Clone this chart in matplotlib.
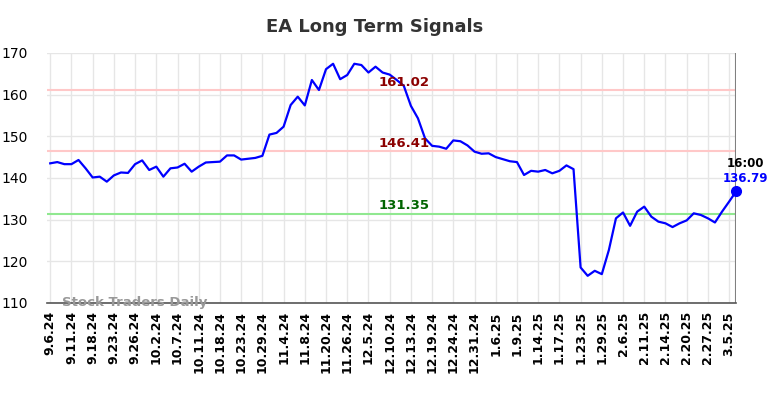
import matplotlib
matplotlib.use("Agg")
import matplotlib.pyplot as plt

# closing prices, one per trading day
prices = [
    143.5, 143.8, 143.3, 143.3, 144.3, 142.3, 140.1, 140.3, 139.1, 140.6,
    141.3, 141.2, 143.3, 144.2, 141.9, 142.7, 140.3, 142.3, 142.5, 143.4,
    141.5, 142.7, 143.7, 143.8, 143.9, 145.4, 145.4, 144.4, 144.6, 144.8,
    145.3, 150.4, 150.8, 152.3, 157.5, 159.5, 157.4, 163.5, 161.1, 166.1,
    167.4, 163.7, 164.7, 167.4, 167.1, 165.3, 166.7, 165.3, 164.8, 163.5,
    162.1, 157.3, 154.3, 149.5, 147.7, 147.5, 147.0, 149.0, 148.8, 147.8,
    146.3, 145.8, 145.9, 145.0, 144.5, 144.0, 143.8, 140.7, 141.7, 141.5,
    141.9, 141.1, 141.7, 143.0, 142.1, 118.5, 116.5, 117.7, 116.9, 122.7,
    130.3, 131.7, 128.5, 131.9, 133.1, 130.7, 129.5, 129.1, 128.2, 129.1,
    129.8, 131.5, 131.1, 130.3, 129.3, 131.9, 134.3, 136.79,
]

tick_labels = [
    "9.6.24", "9.11.24", "9.18.24", "9.23.24", "9.26.24", "10.2.24",
    "10.7.24", "10.11.24", "10.18.24", "10.23.24", "10.29.24", "11.4.24",
    "11.8.24", "11.20.24", "11.26.24", "12.5.24", "12.10.24", "12.13.24",
    "12.19.24", "12.24.24", "12.31.24", "1.6.25", "1.9.25", "1.14.25",
    "1.17.25", "1.23.25", "1.29.25", "2.6.25", "2.11.25", "2.14.25",
    "2.20.25", "2.27.25", "3.5.25",
]
tick_step = 3

upper_signal = 161.02
mid_signal = 146.41
lower_signal = 131.35
last_time = "16:00"

fig = plt.figure(figsize=(7.84, 3.98), dpi=100)
ax = fig.add_axes([0.06, 0.239, 0.879, 0.628])

x = list(range(len(prices)))
ax.plot(x, prices, color="blue", lw=1.6, zorder=3)

ax.axhline(upper_signal, color="#ffc8c8", lw=1.5, zorder=2)
ax.axhline(mid_signal, color="#ffc8c8", lw=1.5, zorder=2)
ax.axhline(lower_signal, color="#90e890", lw=1.5, zorder=2)

lab_x = 50
for val, col in [(upper_signal, "#8b0000"), (mid_signal, "#8b0000"),
                 (lower_signal, "#006400")]:
    ax.text(lab_x, val + 0.4, f"{val:.2f}", color=col, fontsize=9.5,
            fontweight="bold", ha="center", va="bottom")

last = len(prices) - 1
ax.axvline(last, color="#808080", lw=1.5, zorder=2)
ax.plot(last, prices[-1], "o", color="blue", ms=7, zorder=4, clip_on=False)
ax.text(last + 1.3, prices[-1] + 5.0, last_time, color="black", fontsize=8.5,
        fontweight="bold", ha="center", va="bottom", clip_on=False)
ax.text(last + 1.3, prices[-1] + 1.6, f"{prices[-1]:.2f}", color="blue",
        fontsize=8.5, fontweight="bold", ha="center", va="bottom", clip_on=False)

ax.text(0.021, 0.0, "Stock Traders Daily", transform=ax.transAxes, color="#999999",
        fontsize=9.5, fontweight="bold", ha="left", va="center", zorder=5)

ax.set_xticks(list(range(0, len(tick_labels) * tick_step, tick_step)))
ax.set_xticklabels(tick_labels, rotation=90, fontsize=9, fontweight="bold")
ax.set_yticks([110, 120, 130, 140, 150, 160, 170])
ax.tick_params(axis="y", labelsize=10, length=0, pad=14)
ax.tick_params(axis="x", length=0, pad=6)
ax.set_xlim(-0.45, last)
ax.set_ylim(110, 170)
ax.grid(True, color="#e6e6e6", lw=1)
ax.set_axisbelow(True)
for s in ["top", "left", "right"]:
    ax.spines[s].set_visible(False)
ax.spines["bottom"].set_color("#555555")
ax.spines["bottom"].set_linewidth(1.2)

fig.text(0.478, 0.932, "EA Long Term Signals", ha="center", va="center",
         fontsize=13, fontweight="bold", color="#333333")

fig.savefig("out.png", dpi=100)
